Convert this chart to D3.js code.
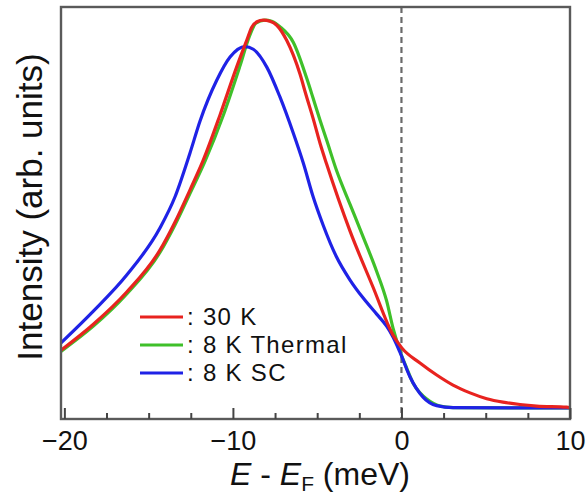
<!DOCTYPE html>
<html>
<head>
<meta charset="utf-8">
<script src="https://cdn.jsdelivr.net/npm/d3@7"></script>
<style>
  html, body { margin: 0; padding: 0; background: #fff; }
  svg { display: block; }
  text { font-family: "Liberation Sans", Arial, Helvetica, sans-serif; fill: #111; }
</style>
</head>
<body>
<svg id="chart" width="586" height="497"></svg>
<script>
// ---- data (E - EF in meV, intensity normalised to the 30 K peak) ----
const red30K_E = [-20.20, -18.28, -16.30, -14.33, -13.44, -12.55, -11.76, -10.77, -9.78, -9.18, -8.88, -8.57, -8.20, -7.80, -7.40, -6.81, -6.02, -5.66, -5.23, -4.80, -4.44, -3.05, -1.69, -0.50, 0.02, 1.10, 2.09, 3.06, 4.07, 5.06, 6.02, 7.03, 8.02, 9.80, 10];
const red30K_I = [0.149, 0.216, 0.299, 0.407, 0.479, 0.562, 0.639, 0.755, 0.879, 0.948, 0.982, 0.996, 1.000, 0.997, 0.987, 0.948, 0.861, 0.807, 0.745, 0.678, 0.629, 0.456, 0.312, 0.188, 0.155, 0.116, 0.085, 0.059, 0.039, 0.024, 0.015, 0.009, 0.005, 0.002, 0.001];

const green8KThermal_E = [-20.20, -18.28, -16.30, -14.33, -13.44, -12.55, -11.66, -10.57, -9.59, -9.00, -8.64, -8.11, -7.70, -7.21, -6.42, -5.62, -5.25, -4.83, -4.44, -3.84, -3.05, -2.28, -1.47, -0.88, -0.50, 0.02, 0.31, 0.69, 1.10, 1.50, 2.29, 3.06, 10];
const green8KThermal_I = [0.146, 0.211, 0.294, 0.401, 0.472, 0.553, 0.636, 0.755, 0.881, 0.961, 0.992, 1.000, 0.997, 0.983, 0.943, 0.850, 0.800, 0.742, 0.691, 0.611, 0.525, 0.442, 0.352, 0.276, 0.206, 0.134, 0.103, 0.064, 0.039, 0.023, 0.005, 0.001, 0.000];

const blue8KSC_E = [-20.20, -18.28, -16.30, -14.33, -13.44, -12.55, -11.95, -10.96, -10.17, -9.29, -8.79, -7.99, -7.21, -6.42, -5.82, -5.25, -4.65, -3.88, -3.05, -2.28, -1.47, -0.88, -0.50, -0.09, 0.51, 1.28, 2.09, 3.06, 10];
const blue8KSC_I = [0.168, 0.250, 0.343, 0.464, 0.544, 0.657, 0.740, 0.845, 0.905, 0.932, 0.925, 0.879, 0.802, 0.709, 0.631, 0.546, 0.472, 0.392, 0.330, 0.284, 0.242, 0.211, 0.183, 0.144, 0.080, 0.028, 0.006, 0.001, 0.000];

const seriesNames = [": 30 K", ": 8 K Thermal", ": 8 K SC"];
const seriesColors = ["#e8231f", "#3fc02a", "#1f22e6"];

const majorTicks = [-20, -10, 0, 10];
const minorTicks = [-17.5, -15, -12.5, -7.5, -5, -2.5, 2.5, 5, 7.5];
const xDomain = [-20.2, 10];
const yDomain = [-0.0284, 1.034];

// ---- layout ----
const padL = 61, padR = 570, padT = 7, padB = 419;

const svg = d3.select("#chart");
const x = d3.scaleLinear().domain(xDomain).range([padL, padR]);
const y = d3.scaleLinear().domain(yDomain).range([padB, padT]);

// dashed line at EF
svg.append("line")
  .attr("x1", x(0)).attr("x2", x(0))
  .attr("y1", padT).attr("y2", padB)
  .attr("stroke", "#6a6a6a").attr("stroke-width", 2.2)
  .attr("stroke-dasharray", "6,4");

// curves
const line = d3.line()
  .x(d => x(d[0])).y(d => y(d[1]))
  .curve(d3.curveMonotoneX);

const series = [
  { E: green8KThermal_E, I: green8KThermal_I, c: seriesColors[1] },
  { E: blue8KSC_E, I: blue8KSC_I, c: seriesColors[2] },
  { E: red30K_E, I: red30K_I, c: seriesColors[0] }
];
series.forEach(s => {
  svg.append("path")
    .datum(s.E.map((e, i) => [e, s.I[i]]))
    .attr("d", line)
    .attr("fill", "none")
    .attr("stroke", s.c)
    .attr("stroke-width", 3.2)
    .attr("stroke-linejoin", "round");
});

// frame
svg.append("rect")
  .attr("x", padL).attr("y", padT)
  .attr("width", padR - padL).attr("height", padB - padT)
  .attr("fill", "none").attr("stroke", "#5a5a5a").attr("stroke-width", 2.4);

// bottom axis: inward ticks
const axisMajor = d3.axisBottom(x).tickValues(majorTicks).tickSizeInner(-11).tickSizeOuter(0)
  .tickFormat(d3.format("d"));
const gAx = svg.append("g").attr("transform", `translate(0,${padB})`).call(axisMajor);
gAx.select(".domain").remove();
gAx.selectAll(".tick line").attr("stroke", "#444").attr("stroke-width", 2);
gAx.selectAll(".tick text")
  .attr("y", 31).attr("dy", 0)
  .style("font-size", "27px")
  .style("font-family", "'Liberation Sans', Arial, sans-serif")
  .attr("fill", "#111");

const axisMinor = d3.axisBottom(x).tickValues(minorTicks).tickSizeInner(-6).tickSizeOuter(0).tickFormat("");
const gMin = svg.append("g").attr("transform", `translate(0,${padB})`).call(axisMinor);
gMin.select(".domain").remove();
gMin.selectAll(".tick line").attr("stroke", "#444").attr("stroke-width", 2);

// x title
const xt = svg.append("text")
  .attr("x", 320).attr("y", 485)
  .attr("text-anchor", "middle")
  .style("font-size", "32px");
xt.append("tspan").attr("font-style", "italic").text("E");
xt.append("tspan").text(" - ");
xt.append("tspan").attr("font-style", "italic").text("E");
xt.append("tspan").attr("font-size", "21px").attr("dy", 6).text("F");
xt.append("tspan").attr("dy", -6).text(" (meV)");

// y title
svg.append("text")
  .attr("transform", "translate(42,207) rotate(-90)")
  .attr("text-anchor", "middle")
  .style("font-size", "35px")
  .text("Intensity (arb. units)");

// legend
const legY = [317, 345, 373];
[0, 1, 2].forEach((k, i) => {
  svg.append("line")
    .attr("x1", 140).attr("x2", 183)
    .attr("y1", legY[i]).attr("y2", legY[i])
    .attr("stroke", seriesColors[k]).attr("stroke-width", 3.2);
  svg.append("text")
    .attr("x", 187).attr("y", legY[i] + 8)
    .style("font-size", "24px")
    .style("letter-spacing", "1.3px")
    .text(seriesNames[k]);
});
</script>
</body>
</html>
